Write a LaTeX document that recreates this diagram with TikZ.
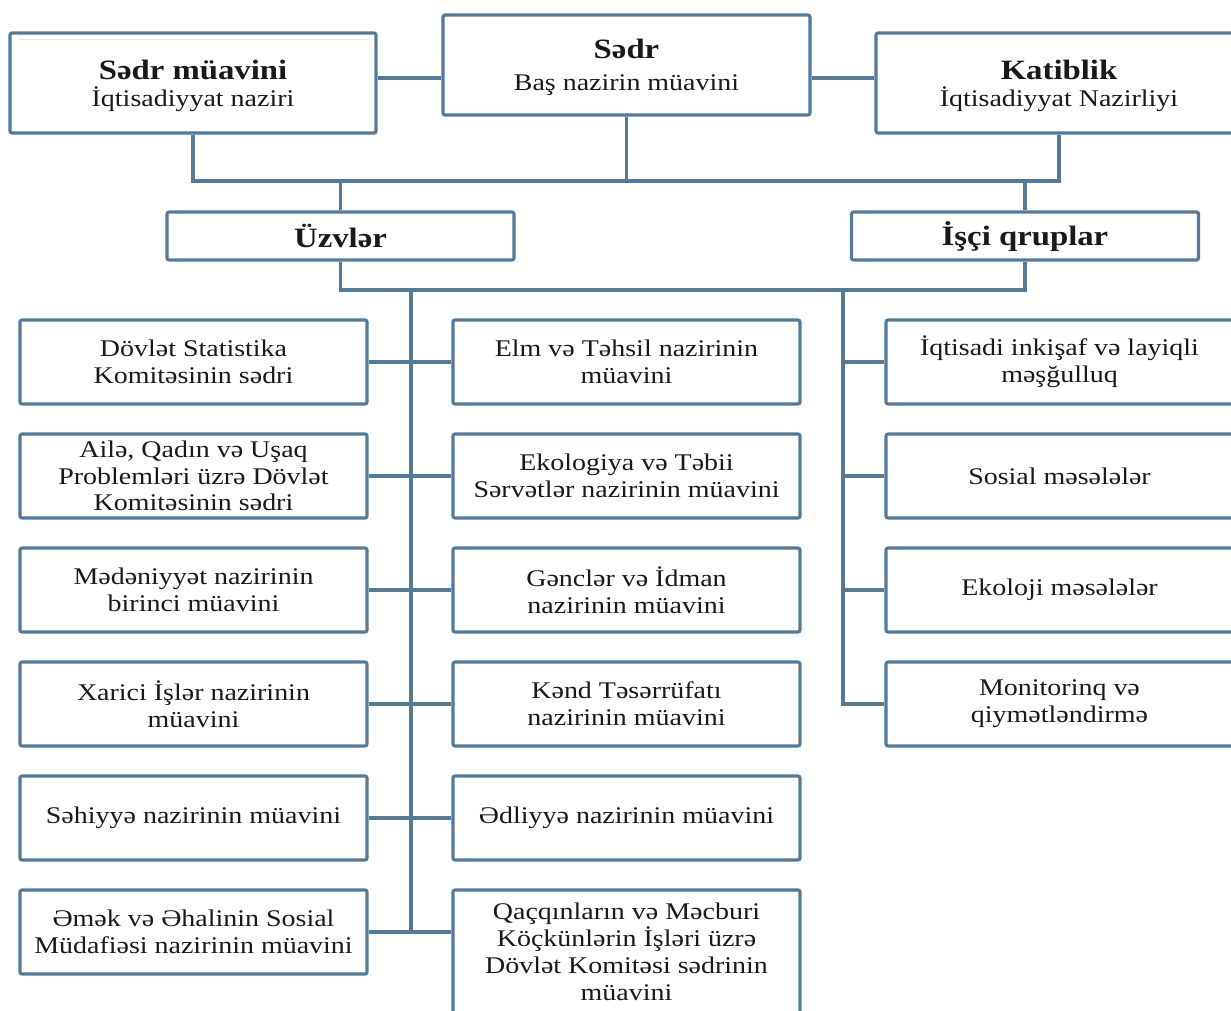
\documentclass[tikz,border=0pt]{standalone}
\usepackage{fontspec}
\setmainfont{Liberation Serif}[FakeStretch=1.17]
\definecolor{lc}{RGB}{84,122,152}
\definecolor{tc}{RGB}{25,25,25}
\newcommand{\hdfont}{\bfseries\fontsize{28}{28}\selectfont}
\tikzset{
  box/.style={draw=lc, line width=3.1pt, rounded corners=2pt, fill=white,
    minimum width=347pt, minimum height=84pt, align=center, inner sep=0pt,
    text=tc, font=\fontsize{23.9}{26.8}\selectfont},
  conn/.style={draw=lc, line width=3.1pt}
}
\begin{document}
\begin{tikzpicture}[x=1pt,y=-1pt]
\clip (0,0) rectangle (1231,1010);
\fill[white] (0,0) rectangle (1231,1010);
% top row
\node[box, minimum width=366pt, minimum height=100pt] (smv) at (193,83) {{\hdfont\rule{0pt}{25.2pt}Sədr müavini}\\İqtisadiyyat naziri};
\node[box, minimum width=367pt, minimum height=100pt] (sedr) at (626.5,65) {{\hdfont\rule{0pt}{24.2pt}Sədr}\\[5pt]Baş nazirin müavini};
\node[box, minimum width=366pt, minimum height=100pt] (kat) at (1059,83) {{\hdfont\rule{0pt}{25.2pt}Katiblik}\\İqtisadiyyat Nazirliyi};
\draw[gray!20, line width=0.8pt] (18,39) -- (367,39);
% second row
\node[box, minimum height=48pt] (uz) at (340.5,236) {\hdfont Üzvlər};
\node[box, minimum height=48pt] (isc) at (1025,236) {\hdfont İşçi qruplar};
% left column
\node[box] (l1) at (193.5,362) {Dövlət Statistika\\Komitəsinin sədri};
\node[box] (l2) at (193.5,476) {Ailə, Qadın və Uşaq\\Problemləri üzrə Dövlət\\Komitəsinin sədri};
\node[box] (l3) at (193.5,590) {Mədəniyyət nazirinin\\birinci müavini};
\node[box] (l4) at (193.5,704) {Xarici İşlər nazirinin\\müavini};
\node[box] (l5) at (193.5,818) {Səhiyyə nazirinin müavini};
\node[box] (l6) at (193.5,932) {Əmək və Əhalinin Sosial\\Müdafiəsi nazirinin müavini};
% middle column
\node[box] (m1) at (626.5,362) {Elm və Təhsil nazirinin\\müavini};
\node[box] (m2) at (626.5,476) {Ekologiya və Təbii\\Sərvətlər nazirinin müavini};
\node[box] (m3) at (626.5,590) {Gənclər və İdman\\nazirinin müavini};
\node[box] (m4) at (626.5,704) {Kənd Təsərrüfatı\\nazirinin müavini};
\node[box] (m5) at (626.5,818) {Ədliyyə nazirinin müavini};
\node[box, minimum height=124pt] (m6) at (626.5,952) {Qaçqınların və Məcburi\\Köçkünlərin İşləri üzrə\\Dövlət Komitəsi sədrinin\\müavini};
% right column
\node[box] (r1) at (1059.5,362) {İqtisadi inkişaf və layiqli\\məşğulluq};
\node[box] (r2) at (1059.5,476) {Sosial məsələlər};
\node[box] (r3) at (1059.5,590) {Ekoloji məsələlər};
\node[box] (r4) at (1059.5,704) {Monitorinq və\\qiymətləndirmə};
% connectors
\coordinate (h) at ([yshift=5pt]smv.east);
\draw[conn] (h) -- (h -| sedr.west);
\draw[conn] (h -| sedr.east) -- (h -| kat.west);
\coordinate (b1) at (626,181);
\coordinate (b2) at (411,290);
\coordinate (t2) at (843,290);
\draw[conn] (smv.south) -- (smv.south |- b1) -- (kat.south |- b1) -- (kat.south);
\draw[conn] (sedr.south) -- (sedr.south |- b1);
\draw[conn] (uz.north) -- (uz.north |- b1);
\draw[conn] (isc.north) -- (isc.north |- b1);
\draw[conn] (uz.south) -- (uz.south |- b2) -- (isc.south |- b2) -- (isc.south);
\draw[conn] (b2) -- (b2 |- l6.east);
\draw[conn] (t2) -- (t2 |- r4.west) -- (r4.west);
\foreach \i in {1,...,5} {\draw[conn] (l\i.east) -- (m\i.west);}
\draw[conn] (l6.east) -- (l6.east -| m6.west);
\foreach \i in {1,2,3} {\draw[conn] (t2 |- r\i.west) -- (r\i.west);}
\end{tikzpicture}
\end{document}
